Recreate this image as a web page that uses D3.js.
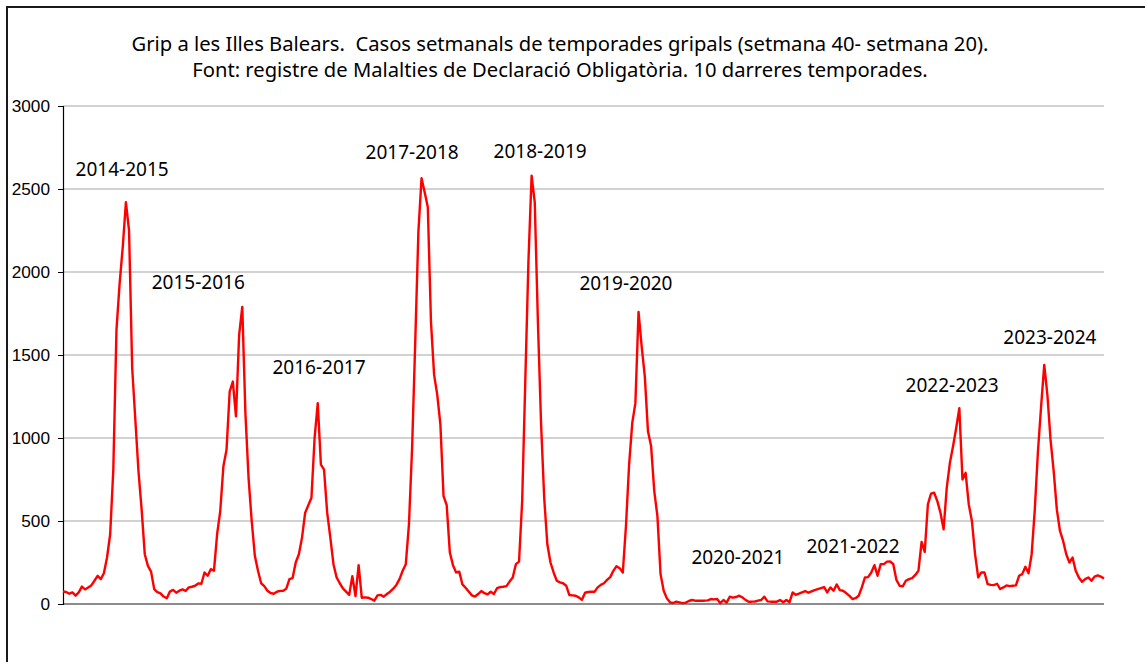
<!DOCTYPE html>
<html>
<head>
<meta charset="utf-8">
<script src="https://cdn.jsdelivr.net/npm/d3@7"></script>
<style>
  body { margin: 0; background: #fff; }
  svg { display: block; }
</style>
</head>
<body>
<svg id="chart" width="1145" height="662"></svg>
<script>
// weekly cases, week 40 -> week 20, one array per season
const s2014_15 = [75,72,62,70,50,70,105,88,100,112,140,170,150,185,280,420,810,1650,1930,2150,2420,2250,1420,1110,800,570,300,230,195,90,72,64,45]
const s2015_16 = [35,75,85,68,80,88,78,100,104,110,124,122,190,170,210,200,420,560,830,930,1280,1340,1130,1620,1790,1150,760,500,290,200,125,108,80,66]
const s2016_17 = [62,74,79,80,92,150,156,250,300,400,550,595,640,1000,1210,840,810,550,400,240,160,125,94,75,55,168,48,234,38,40,38,30,20]
const s2017_18 = [52,55,44,60,74,92,115,150,200,240,480,940,1580,2240,2565,2480,2390,1700,1380,1260,1080,650,595,310,234,190,195,118,98,75,52,45,60]
const s2018_19 = [78,65,58,74,60,95,102,104,108,135,160,240,255,620,1350,2070,2580,2420,1700,1090,640,360,250,190,140,130,125,110,54,52,50,40,25]
const s2019_20 = [68,72,74,74,100,115,125,145,162,200,228,216,190,470,840,1090,1210,1760,1550,1370,1040,950,680,530,180,80,34,10,6,14,10,5,8]
const s2020_21 = [18,24,20,20,20,20,22,30,28,30,5,24,8,44,38,42,50,40,25,14,14,15,20,24,44,16,14,14,14,24,10,24,10,70]
const s2021_22 = [55,62,70,78,68,76,84,90,96,102,70,100,80,118,84,80,66,50,30,35,50,100,160,162,190,234,170,240,240,255,256,240,145]
const s2022_23 = [110,106,140,150,156,175,200,374,314,600,665,670,620,550,450,700,850,950,1060,1180,750,790,600,500,300,160,190,190,120,115,114,122,90]
const s2023_24 = [100,112,108,110,112,170,180,224,185,300,570,920,1190,1440,1260,990,800,570,440,380,300,250,280,200,160,134,150,160,140,165,172,165,154]

const seasons = ["2014-2015","2015-2016","2016-2017","2017-2018","2018-2019",
                 "2019-2020","2020-2021","2021-2022","2022-2023","2023-2024"]
// where each season label sits: [week index, cases]
const labelIdx = [18.8, 43, 81.4, 111, 151.7, 179, 214.6, 251.2, 282.7, 313.8]
const labelVal = [2621, 1936, 1425, 2718, 2724, 1930, 283, 349, 1317, 1605]

const yTicks = [0, 500, 1000, 1500, 2000, 2500, 3000]

const title1 = "Grip a les Illes Balears.  Casos setmanals de temporades gripals (setmana 40- setmana 20)."
const title2 = "Font: registre de Malalties de Declaració Obligatòria. 10 darreres temporades."

const series = [].concat(s2014_15, s2015_16, s2016_17, s2017_18, s2018_19,
                         s2019_20, s2020_21, s2021_22, s2022_23, s2023_24)

const svg = d3.select("#chart")
const margin = { top: 106, right: 41, bottom: 58, left: 63 }
const W = 1145, H = 662

// outer frame
svg.append("rect")
    .attr("x", 7).attr("y", 7)
    .attr("width", W + 20).attr("height", H + 20)
    .attr("fill", "none")
    .attr("stroke", "#1a1a1a")
    .attr("stroke-width", 2)

const x = d3.scaleLinear()
    .domain([0, series.length - 1])
    .range([margin.left, W - margin.right])

const y = d3.scaleLinear()
    .domain([0, 3000])
    .range([H - margin.bottom, margin.top])

// gridlines
svg.append("g")
    .selectAll("line")
    .data(yTicks.filter(d => d > 0))
    .join("line")
    .attr("x1", margin.left).attr("x2", W - margin.right)
    .attr("y1", d => y(d)).attr("y2", d => y(d))
    .attr("stroke", "#a6a6a6")
    .attr("stroke-width", 1.2)

// x axis baseline
svg.append("line")
    .attr("x1", margin.left).attr("x2", W - margin.right)
    .attr("y1", y(0)).attr("y2", y(0))
    .attr("stroke", "#8c8c8c")
    .attr("stroke-width", 2)

// y axis
const yAxis = svg.append("g")
    .attr("transform", `translate(${margin.left},0)`)
    .call(d3.axisLeft(y).tickValues(yTicks).tickFormat(d3.format("d")).tickSize(5).tickPadding(8))

yAxis.select(".domain").attr("stroke", "#000").attr("stroke-width", 1.2)
yAxis.selectAll(".tick line").attr("stroke", "#000")
yAxis.selectAll(".tick text")
    .attr("font-family", "Liberation Sans, Arial, sans-serif")
    .attr("font-size", 17.2)
    .attr("fill", "#000")

// the line
const line = d3.line()
    .x((d, i) => x(i))
    .y(d => y(d))

svg.append("path")
    .datum(series)
    .attr("d", line)
    .attr("fill", "none")
    .attr("stroke", "#ff0000")
    .attr("stroke-width", 2.4)
    .attr("stroke-linejoin", "round")

// season labels
svg.append("g")
    .selectAll("text")
    .data(seasons)
    .join("text")
    .attr("x", (d, i) => x(labelIdx[i]))
    .attr("y", (d, i) => y(labelVal[i]))
    .attr("dy", "0.35em")
    .attr("text-anchor", "middle")
    .attr("font-family", "Noto Sans, sans-serif")
    .attr("font-size", 19)
    .attr("fill", "#000")
    .text(d => d)

// title
svg.append("g")
    .selectAll("text")
    .data([title1, title2])
    .join("text")
    .attr("x", 560)
    .attr("y", (d, i) => 51 + i * 26)
    .attr("text-anchor", "middle")
    .attr("font-family", "Noto Sans, sans-serif")
    .attr("font-size", 20.2)
    .attr("fill", "#000")
    .style("white-space", "pre")
    .text(d => d)
</script>
</body>
</html>
